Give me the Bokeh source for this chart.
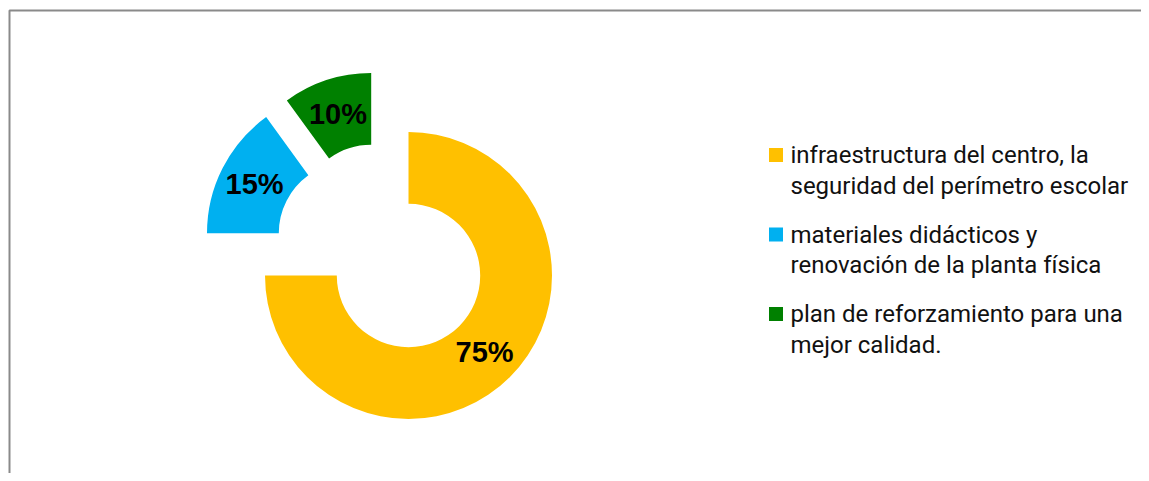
import math
from bokeh.plotting import figure
from bokeh.models import Range1d, ColumnDataSource
from bokeh.core.properties import value
from bokeh.embed import file_html
from bokeh.resources import INLINE

# ---- data ----
categories = [
    "infraestructura del centro, la\nseguridad del perímetro escolar",
    "materiales didácticos y\nrenovación de la planta física",
    "plan de reforzamiento para una\nmejor calidad.",
]
shares = [75, 15, 10]
colors = ["#FFC000", "#00B0F0", "#008000"]

# ---- layout / style ----
W, H = 1141, 473
CX, CY = 400, 206
R_OUT, R_IN = 143.5, 71.7
explode = [(0, 0), (-58, 42.3), (-37.3, 59)]   # per-slice pull-out offsets (px)

p = figure(width=W, height=H, x_range=Range1d(-8, W - 8), y_range=Range1d(8, H + 8),
           output_backend="svg", toolbar_location=None, min_border=0,
           x_axis_location=None, y_axis_location=None)
p.grid.visible = False
p.outline_line_color = None
p.background_fill_color = "white"
p.border_fill_color = "white"

# frame (left and top edges visible)
p.line(x=[1, 1, W + 20], y=[-20, 471, 471], line_color="#8a8a8a", line_width=2)

total = float(sum(shares))
xs, ys, starts, ends, lx, ly, ltxt = [], [], [], [], [], [], []
cum = 0.0
for v, (dx, dy) in zip(shares, explode):
    a0 = math.pi / 2 - 2 * math.pi * cum / total
    cum += v
    a1 = math.pi / 2 - 2 * math.pi * cum / total
    cx, cy = CX + dx, CY + dy
    xs.append(cx); ys.append(cy); starts.append(a0); ends.append(a1)
    mid = (a0 + a1) / 2
    rm = (R_OUT + R_IN) / 2
    lx.append(cx + rm * math.cos(mid)); ly.append(cy + rm * math.sin(mid))
    ltxt.append(f"{v}%")

src = ColumnDataSource(dict(x=xs, y=ys, start=starts, end=ends, color=colors))
p.annular_wedge(x="x", y="y", inner_radius=R_IN, outer_radius=R_OUT,
                start_angle="start", end_angle="end", direction="clock",
                fill_color="color", line_color=None, source=src)

p.text(x=lx, y=ly, text=ltxt, text_font=value("Liberation Sans"),
       text_font_style="bold", text_font_size="29px", text_color="#000000",
       text_align="center", text_baseline="middle")

# legend drawn manually
sq_x, sq_size = 767.5, 14
txt_x = 782
top0, pitch, line_h = 481 - 161.5, 79.5, 30.5
txt_shift = 7
sqx, sqy, tx, ty, tt = [], [], [], [], []
for i, cat in enumerate(categories):
    base = top0 - i * pitch
    sqx.append(sq_x); sqy.append(base + sq_size / 2)
    for j, line in enumerate(cat.split("\n")):
        tx.append(txt_x); ty.append(base + txt_shift - j * line_h); tt.append(line)
p.rect(x=sqx, y=sqy, width=sq_size, height=sq_size, fill_color=colors, line_color=None)
p.text(x=tx, y=ty, text=tt, text_font=value("Roboto"), text_font_size="24px",
       text_color="#111111", text_align="left", text_baseline="alphabetic")

open("out.html", "w").write(file_html(p, INLINE))
